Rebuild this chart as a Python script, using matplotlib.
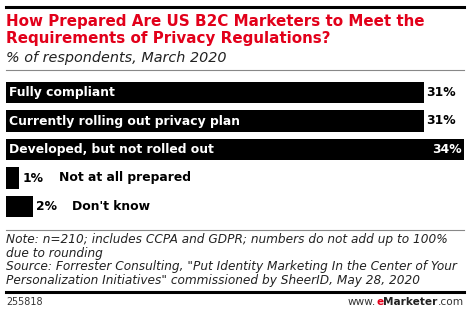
#!/usr/bin/env python3

import matplotlib
matplotlib.use("Agg")
import matplotlib.pyplot as plt

W, H = 470, 314

categories = ["Fully compliant", "Currently rolling out privacy plan",
              "Developed, but not rolled out", "Not at all prepared", "Don't know"]
values     = [31, 31, 34, 1, 2]
val_labels = ["31%", "31%", "34%", "1%", "2%"]

title    = "How Prepared Are US B2C Marketers to Meet the\nRequirements of Privacy Regulations?"
subtitle = "% of respondents, March 2020"
note     = ("Note: n=210; includes CCPA and GDPR; numbers do not add up to 100%\n"
            "due to rounding\n"
            "Source: Forrester Consulting, \"Put Identity Marketing In the Center of Your\n"
            "Personalization Initiatives\" commissioned by SheerID, May 28, 2020")
chart_id = "255818"

red = "#e2001a"
fs_lab = 8.9

def fx(px):
  return px / W

def fy(py):
  return 1 - py / H

fig = plt.figure(figsize=(W/100, H/100), dpi=100)

# rules
fig.add_artist(plt.Line2D([fx(6), fx(464)], [fy(7), fy(7)], color="black", lw=2.2))
fig.add_artist(plt.Line2D([fx(6), fx(464)], [fy(70), fy(70)], color="#888888", lw=0.8))
fig.add_artist(plt.Line2D([fx(6), fx(464)], [fy(230), fy(230)], color="#888888", lw=0.8))
fig.add_artist(plt.Line2D([fx(6), fx(464)], [fy(292), fy(292)], color="black", lw=2.2))

fig.text(fx(6), fy(14), title, color=red, fontsize=10.9, fontweight="heavy",
         va="top", ha="left", linespacing=1.15, family="DejaVu Sans")
fig.text(fx(6), fy(51), subtitle, color="#222222", fontsize=10.4, style="italic",
         va="top", ha="left")

# bars
ax = fig.add_axes([fx(6), fy(220.75), fx(458), (220.75-78.25)/H])
pos = list(range(len(values)))
ax.barh(pos, values, height=0.74, color="black")
ax.set_xlim(0, 34)
ax.set_ylim(4.5, -0.5)
ax.axis("off")

for i, (c, v, vl) in enumerate(zip(categories, values, val_labels)):
  if v >= 10:
    ax.text(0.2, i, c, color="white", fontsize=fs_lab, fontweight="bold", va="center", ha="left")
    if v >= 33:
      ax.text(v - 0.2, i, vl, color="white", fontsize=fs_lab, fontweight="bold", va="center", ha="right")
    else:
      ax.text(v + 0.2, i, vl, color="black", fontsize=fs_lab, fontweight="bold", va="center", ha="left")
  else:
    ax.text(v + 0.2, i, vl, color="black", fontsize=fs_lab, fontweight="bold", va="center", ha="left")
    ax.text(v + 2.9, i, c, color="black", fontsize=fs_lab, fontweight="bold", va="center", ha="left")

fig.text(fx(6), fy(233), note, color="#222222", fontsize=8.75, style="italic",
         va="top", ha="left", linespacing=1.06)
fig.text(fx(6), fy(302), chart_id, color="#333333", fontsize=6.9, va="center", ha="left")
# eMarketer wordmark assembled right to left
fs_w = 7.6
t3 = fig.text(fx(464), fy(302), ".com", color="#333333", fontsize=fs_w, va="center", ha="right")
fig.canvas.draw()
r = fig.canvas.get_renderer()
x3 = t3.get_window_extent(r).x0
t2 = fig.text(x3 / W, fy(302), "Marketer", color="#222222", fontsize=fs_w, fontweight="bold",
              va="center", ha="right")
x2 = t2.get_window_extent(r).x0
t1 = fig.text(x2 / W, fy(302), "e", color=red, fontsize=fs_w, fontweight="bold", va="center", ha="right")
x1 = t1.get_window_extent(r).x0
fig.text(x1 / W, fy(302), "www.", color="#333333", fontsize=fs_w, va="center", ha="right")

fig.savefig("out.png", dpi=100)
plt.close()
